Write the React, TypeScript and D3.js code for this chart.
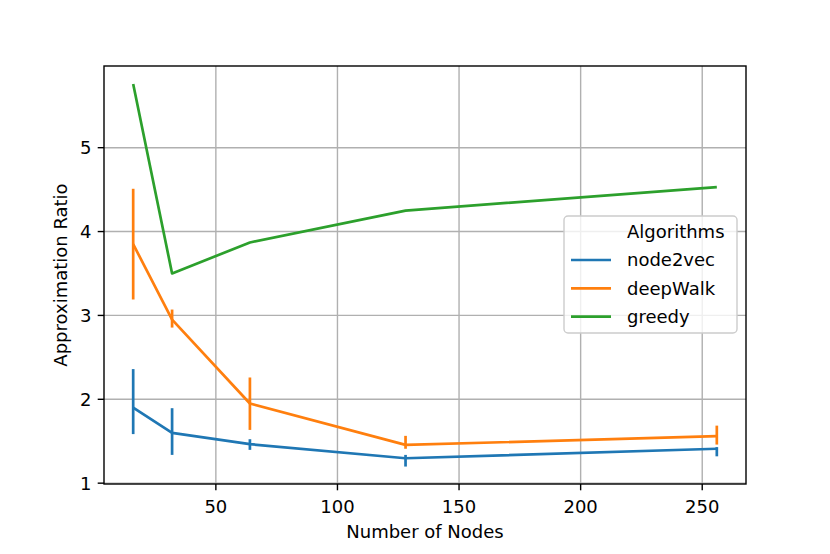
import { scaleLinear, line } from "d3";

const nodes = [16, 32, 64, 128, 256];

// mean ratio and the ends of the confidence bar per algorithm
const node2vecMean = [1.9, 1.6, 1.465, 1.297, 1.41];
const node2vecLow = [1.585, 1.337, 1.397, 1.198, 1.32];
const node2vecHigh = [2.36, 1.894, 1.524, 1.337, 1.43];
const deepWalkMean = [3.85, 2.95, 1.95, 1.456, 1.56];
const deepWalkLow = [3.19, 2.855, 1.635, 1.41, 1.46];
const deepWalkHigh = [4.51, 3.07, 2.26, 1.564, 1.686];
const greedyMean = [5.76, 3.5, 3.87, 4.25, 4.53];

const xTicks = [50, 100, 150, 200, 250];
const yTicks = [1, 2, 3, 4, 5];

const series = [
    { name: "node2vec", color: "#1f77b4", mean: node2vecMean, low: node2vecLow, high: node2vecHigh },
    { name: "deepWalk", color: "#ff7f0e", mean: deepWalkMean, low: deepWalkLow, high: deepWalkHigh },
    { name: "greedy", color: "#2ca02c", mean: greedyMean, low: null as number[] | null, high: null as number[] | null },
];

const W = 830;
const H = 554;
const left = 104, right = 746, top = 66, bottom = 484;
const font = "DejaVu Sans, sans-serif";

export default function App() {
    const x = scaleLinear().domain([4, 268]).range([left, right]);
    const y = scaleLinear().domain([0.99, 5.974]).range([bottom, top]);

    const path = line<[number, number]>()
        .x((d) => x(d[0]))
        .y((d) => y(d[1]));

    return (
        <svg
            width={W}
            height={H}
            style={{ position: "absolute", left: 0, top: 0, background: "#fff" }}
            fontFamily={font}
        >
            {/* grid */}
            <g stroke="#b0b0b0" strokeWidth={1.4}>
                {xTicks.map((t) => (
                    <line key={"gx" + t} x1={x(t)} x2={x(t)} y1={top} y2={bottom} />
                ))}
                {yTicks.map((t) => (
                    <line key={"gy" + t} x1={left} x2={right} y1={y(t)} y2={y(t)} />
                ))}
            </g>

            {/* series */}
            {series.map((s) => (
                <g key={s.name} stroke={s.color} fill="none" strokeWidth={2.7}>
                    <path
                        d={path(nodes.map((n, i) => [n, s.mean[i]] as [number, number])) || ""}
                        strokeLinejoin="round"
                    />
                    {s.low &&
                        s.high &&
                        nodes.map((n, i) => (
                            <line
                                key={n}
                                x1={x(n)}
                                x2={x(n)}
                                y1={y(s.low![i])}
                                y2={y(s.high![i])}
                            />
                        ))}
                </g>
            ))}

            {/* spines */}
            <rect
                x={left}
                y={top}
                width={right - left}
                height={bottom - top}
                fill="none"
                stroke="#000"
                strokeWidth={1.4}
            />

            {/* x axis */}
            {xTicks.map((t) => (
                <g key={"tx" + t}>
                    <line x1={x(t)} x2={x(t)} y1={bottom} y2={bottom + 6.3} stroke="#000" strokeWidth={1.4} />
                    <text x={x(t)} y={513} textAnchor="middle" fontSize={18} fill="#000">
                        {t}
                    </text>
                </g>
            ))}
            <text x={(left + right) / 2} y={538} textAnchor="middle" fontSize={18} fill="#000">
                Number of Nodes
            </text>

            {/* y axis */}
            {yTicks.map((t) => (
                <g key={"ty" + t}>
                    <line x1={left - 6.3} x2={left} y1={y(t)} y2={y(t)} stroke="#000" strokeWidth={1.4} />
                    <text
                        x={left - 12.6}
                        y={y(t)}
                        dy="0.36em"
                        textAnchor="end"
                        fontSize={18}
                        fill="#000"
                    >
                        {t}
                    </text>
                </g>
            ))}
            <text
                transform={`translate(67,${(top + bottom) / 2}) rotate(-90)`}
                textAnchor="middle"
                fontSize={18}
                fill="#000"
            >
                Approximation Ratio
            </text>

            {/* legend */}
            <g>
                <rect
                    x={564}
                    y={216}
                    width={173}
                    height={117}
                    rx={4}
                    fill="#fff"
                    fillOpacity={0.8}
                    stroke="#cccccc"
                    strokeWidth={1.4}
                />
                <text x={627} y={232} dy="0.36em" fontSize={18} fill="#000">
                    Algorithms
                </text>
                {series.map((s, i) => (
                    <g key={"lg" + s.name}>
                        <line
                            x1={571}
                            x2={611}
                            y1={260 + i * 28.3}
                            y2={260 + i * 28.3}
                            stroke={s.color}
                            strokeWidth={2.7}
                        />
                        <text x={627} y={260 + i * 28.3} dy="0.36em" fontSize={18} fill="#000">
                            {s.name}
                        </text>
                    </g>
                ))}
            </g>
        </svg>
    );
}
